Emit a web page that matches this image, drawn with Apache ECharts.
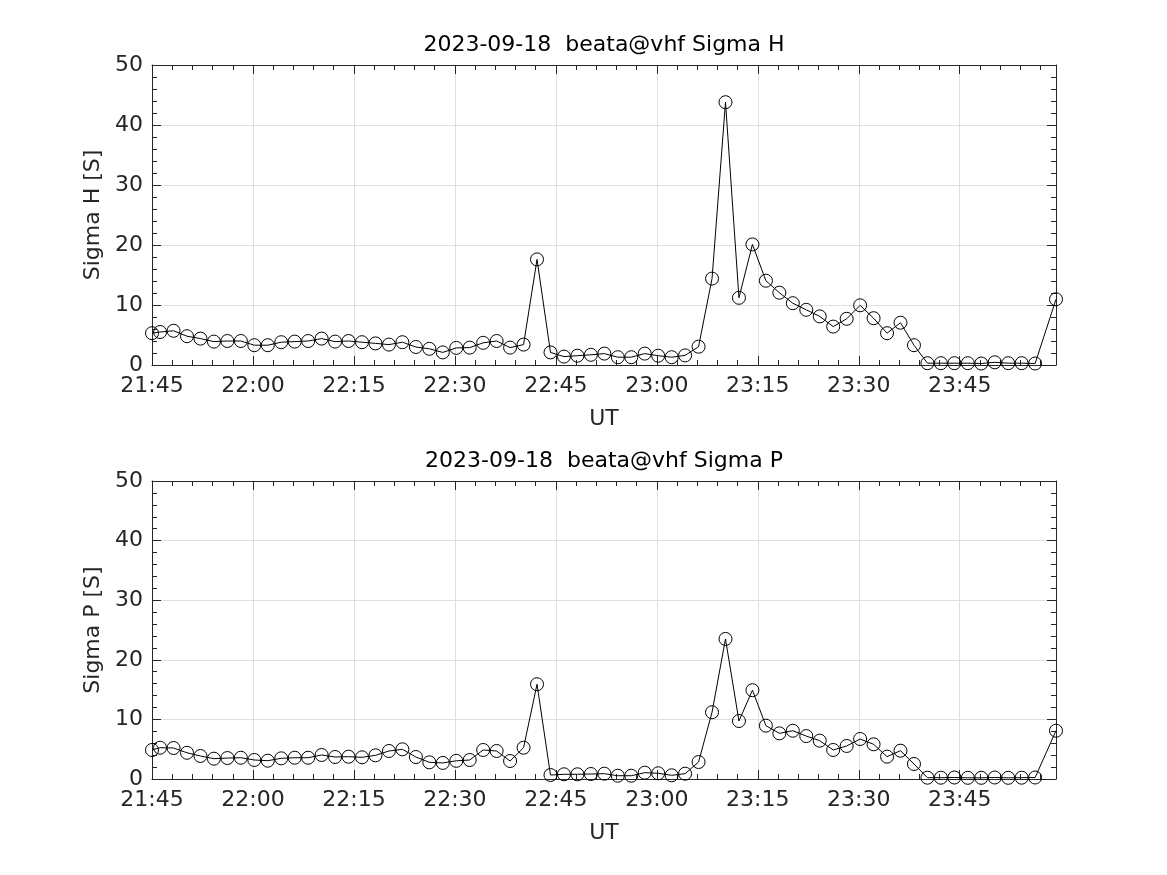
<!DOCTYPE html>
<html><head><meta charset="utf-8">
<script src="https://cdn.jsdelivr.net/npm/echarts@6/dist/echarts.min.js"></script>
<style>html,body{margin:0;padding:0;background:#fff}#c{width:1167px;height:875px}</style>
</head><body><div id="c"></div>
<script>
const dateLabel = '2023-09-18';
const topTitle = dateLabel + '  beata@vhf Sigma H';
const bottomTitle = dateLabel + '  beata@vhf Sigma P';
const axisStart = '21:45';
const xName = 'UT';
const yNameTop = 'Sigma H [S]';
const yNameBottom = 'Sigma P [S]';

const times = [
 '21:45:00','21:46:12','21:48:12','21:50:12','21:52:12','21:54:12','21:56:12','21:58:12','22:00:12','22:02:12',
 '22:04:12','22:06:12','22:08:12','22:10:12','22:12:12','22:14:12','22:16:12','22:18:12','22:20:12','22:22:12',
 '22:24:12','22:26:12','22:28:12','22:30:12','22:32:12','22:34:12','22:36:12','22:38:12','22:40:12','22:42:12',
 '22:44:12','22:46:12','22:48:12','22:50:12','22:52:12','22:54:12','22:56:12','22:58:12','23:00:12','23:02:12',
 '23:04:12','23:06:12','23:08:12','23:10:12','23:12:12','23:14:12','23:16:12','23:18:12','23:20:12','23:22:12',
 '23:24:12','23:26:12','23:28:12','23:30:12','23:32:12','23:34:12','23:36:12','23:38:12','23:40:12','23:42:12',
 '23:44:12','23:46:12','23:48:12','23:50:12','23:52:12','23:54:12','23:56:12','23:59:18'
];

const sigmaH = [
 5.3, 5.5, 5.7, 4.8, 4.4, 3.9, 4.0, 4.0, 3.3, 3.3,
 3.8, 3.9, 4.0, 4.4, 3.9, 4.0, 3.8, 3.6, 3.4, 3.8,
 3.0, 2.7, 2.1, 2.85, 2.9, 3.7, 4.0, 2.9, 3.4, 17.6,
 2.1, 1.4, 1.55, 1.7, 1.9, 1.3, 1.3, 1.9, 1.55, 1.3,
 1.6, 3.05, 14.4, 43.8, 11.2, 20.1, 14.05, 12.05, 10.3, 9.2,
 8.1, 6.4, 7.7, 9.95, 7.8, 5.3, 7.05, 3.3, 0.3, 0.3,
 0.3, 0.3, 0.25, 0.45, 0.3, 0.3, 0.25, 10.95
];

const sigmaP = [
 4.87, 5.25, 5.2, 4.4, 3.86, 3.41, 3.52, 3.57, 3.19, 3.07,
 3.47, 3.57, 3.57, 4.03, 3.69, 3.74, 3.64, 3.97, 4.7, 4.98,
 3.69, 2.8, 2.7, 3.05, 3.19, 4.87, 4.7, 3.02, 5.25, 15.9,
 0.67, 0.79, 0.79, 0.84, 0.89, 0.55, 0.55, 1.06, 0.96, 0.62,
 0.89, 2.85, 11.2, 23.5, 9.73, 14.9, 8.95, 7.66, 8.1, 7.2,
 6.43, 4.87, 5.54, 6.71, 5.82, 3.75, 4.75, 2.52, 0.22, 0.22,
 0.25, 0.2, 0.2, 0.25, 0.2, 0.22, 0.25, 8.1
];

const yMin = 0, yMax = 50, yStep = 10;
const xStepMin = 15;

function toMin(s) {
  const p = s.split(':').map(Number);
  return p[0] * 60 + p[1] + (p[2] || 0) / 60;
}
const t0 = toMin(axisStart);
const xs = times.map(s => toMin(s) - t0);
const xMax = xs[xs.length - 1];
function fmt(v) {
  const m = Math.round(t0 + v);
  const h = Math.floor(m / 60) % 24, mm = m % 60;
  return String(h).padStart(2, '0') + ':' + String(mm).padStart(2, '0');
}

const FONT = 'DejaVu Sans';
const FS = 22;
const AX = '#262626';
const lineC = { color: AX, width: 1 };
const labelStyle = { fontSize: FS, color: AX, fontFamily: FONT };

function xAxes(gi) {
  const base = {
    type: 'value', gridIndex: gi, min: 0, max: xMax, interval: xStepMin,
    axisLine: { show: true, onZero: false, lineStyle: lineC },
    axisTick: { show: true, inside: true, length: 9, lineStyle: lineC },
    minorTick: { show: true, splitNumber: 5, length: 5, lineStyle: lineC }
  };
  return [
    Object.assign({}, base, {
      position: 'bottom',
      axisLabel: Object.assign({ formatter: fmt, margin: 10, showMaxLabel: false }, labelStyle),
      splitLine: { show: true, lineStyle: { color: '#dfdfdf', width: 1 } },
      name: xName, nameLocation: 'middle', nameGap: 43,
      nameTextStyle: { fontSize: FS, color: AX, fontFamily: FONT }
    }),
    Object.assign({}, base, {
      position: 'top', axisLabel: { show: false }, splitLine: { show: false }
    })
  ];
}
function yAxes(gi, name) {
  const base = {
    type: 'value', gridIndex: gi, min: yMin, max: yMax, interval: yStep,
    axisLine: { show: true, onZero: false, lineStyle: lineC },
    axisTick: { show: true, inside: true, length: 9, lineStyle: lineC },
    minorTick: { show: true, splitNumber: 5, length: 5, lineStyle: lineC }
  };
  return [
    Object.assign({}, base, {
      position: 'left',
      axisLabel: Object.assign({ margin: 9 }, labelStyle),
      splitLine: { show: true, lineStyle: { color: '#dfdfdf', width: 1 } },
      name: name, nameLocation: 'middle', nameGap: 43,
      nameTextStyle: { fontSize: FS, color: AX, fontFamily: FONT }
    }),
    Object.assign({}, base, {
      position: 'right', axisLabel: { show: false }, splitLine: { show: false }
    })
  ];
}
function series(vals, xi, yi) {
  return {
    type: 'line', xAxisIndex: xi, yAxisIndex: yi,
    data: xs.map((x, i) => [x, vals[i]]),
    symbol: 'circle', symbolSize: 13, showAllSymbol: true,
    lineStyle: { color: '#000', width: 1 },
    itemStyle: { color: 'rgba(0,0,0,0)', borderColor: '#000', borderWidth: 1 },
    emphasis: { disabled: true }, z: 5
  };
}

const chart = echarts.init(document.getElementById('c'), null, { renderer: 'canvas' });
chart.setOption({
  animation: false,
  backgroundColor: '#fff',
  textStyle: { fontFamily: FONT },
  title: [
    { text: topTitle, left: 604, top: 34, textAlign: 'center', padding: 0,
      textStyle: { fontSize: FS, fontWeight: 'normal', color: '#000', fontFamily: FONT } },
    { text: bottomTitle, left: 604, top: 450, textAlign: 'center', padding: 0,
      textStyle: { fontSize: FS, fontWeight: 'normal', color: '#000', fontFamily: FONT } }
  ],
  grid: [
    { left: 152, right: 111, top: 65, height: 300 },
    { left: 152, right: 111, top: 481, height: 298 }
  ],
  xAxis: xAxes(0).concat(xAxes(1)),
  yAxis: yAxes(0, yNameTop).concat(yAxes(1, yNameBottom)),
  series: [series(sigmaH, 0, 0), series(sigmaP, 2, 2)]
});
</script></body></html>
